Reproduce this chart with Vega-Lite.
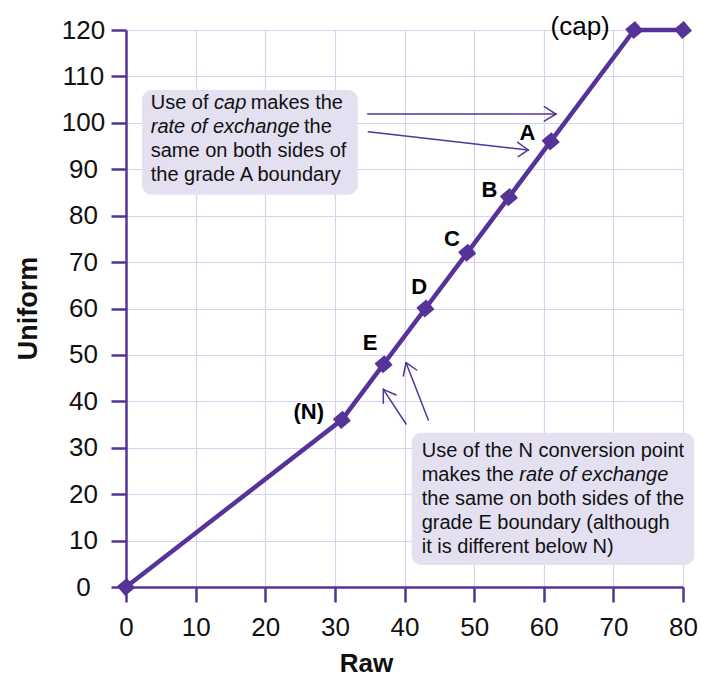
{
  "$schema": "https://vega.github.io/schema/vega-lite/v6.json",
  "width": 557,
  "height": 557,
  "autosize": "none",
  "padding": {"left": 126, "top": 30, "right": 18, "bottom": 90},
  "background": "white",
  "config": {
    "view": {"stroke": null},
    "font": "Liberation Sans",
    "axis": {
      "grid": true,
      "gridColor": "#d9d2ee",
      "gridWidth": 1.2,
      "domainColor": "#553399",
      "domainWidth": 2.5,
      "tickColor": "#553399",
      "tickWidth": 2.5,
      "tickSize": 15,
      "labelFont": "Liberation Sans",
      "labelFontSize": 26,
      "labelColor": "#111111",
      "titleFont": "Liberation Sans",
      "titleFontWeight": "bold",
      "titleColor": "#111111"
    },
    "axisX": {
      "tickCount": 8,
      "labelPadding": 12,
      "labelFlush": false,
      "titleFontSize": 26,
      "titleX": 240,
      "titleY": 84,
      "titleBaseline": "alphabetic",
      "titleAnchor": "middle"
    },
    "axisY": {
      "tickCount": 12,
      "labelAlign": "center",
      "labelPadding": 28,
      "labelFlush": false,
      "titleFontSize": 27,
      "titleAngle": -90,
      "titleX": -90,
      "titleY": 278,
      "titleBaseline": "alphabetic",
      "titleAlign": "center"
    }
  },
  "datasets": {
    "curve": [
      {"Raw": 0, "Uniform": 0},
      {"Raw": 31, "Uniform": 36},
      {"Raw": 37, "Uniform": 48},
      {"Raw": 43, "Uniform": 60},
      {"Raw": 49, "Uniform": 72},
      {"Raw": 55, "Uniform": 84},
      {"Raw": 61, "Uniform": 96},
      {"Raw": 73, "Uniform": 120},
      {"Raw": 80, "Uniform": 120}
    ],
    "boxes": [
      {"Raw": 2.3, "Raw2": 33.3, "Uniform": 107.1, "Uniform2": 84.5},
      {"Raw": 41.03, "Raw2": 81.62, "Uniform": 33.24, "Uniform2": 4.74}
    ],
    "arrows": [
      {"Raw": 34.71, "Uniform": 101.9, "Raw2": 61.76, "Uniform2": 101.9},
      {"Raw": 60.08, "Uniform": 103.47, "Raw2": 61.76, "Uniform2": 101.9},
      {"Raw": 60.08, "Uniform": 100.39, "Raw2": 61.76, "Uniform2": 101.9},
      {"Raw": 34.8, "Uniform": 98.09, "Raw2": 57.78, "Uniform2": 94.15},
      {"Raw": 56.26, "Uniform": 95.81, "Raw2": 57.78, "Uniform2": 94.15},
      {"Raw": 56.34, "Uniform": 92.71, "Raw2": 57.78, "Uniform2": 94.15},
      {"Raw": 40.22, "Uniform": 35.12, "Raw2": 36.96, "Uniform2": 42.59},
      {"Raw": 36.96, "Uniform": 39.58, "Raw2": 36.96, "Uniform2": 42.59},
      {"Raw": 38.78, "Uniform": 41.36, "Raw2": 36.96, "Uniform2": 42.59},
      {"Raw": 43.42, "Uniform": 35.98, "Raw2": 40.22, "Uniform2": 48.32},
      {"Raw": 39.83, "Uniform": 45.46, "Raw2": 40.22, "Uniform2": 48.32},
      {"Raw": 41.75, "Uniform": 46.75, "Raw2": 40.22, "Uniform2": 48.32}
    ],
    "gradeLabels": [
      {"Raw": 26.24, "Uniform": 36.3, "t": "(N)"},
      {"Raw": 35.07, "Uniform": 51.06, "t": "E"},
      {"Raw": 42.1, "Uniform": 63.12, "t": "D"},
      {"Raw": 46.8, "Uniform": 73.46, "t": "C"},
      {"Raw": 52.2, "Uniform": 84.09, "t": "B"},
      {"Raw": 57.67, "Uniform": 96.3, "t": "A"}
    ],
    "capLabel": [
      {"Raw": 65.23, "Uniform": 118.92, "t": "(cap)"}
    ],
    "noteNormal": [
      {"Raw": 3.55, "Uniform": 102.91, "t": "Use of"},
      {"Raw": 17.91, "Uniform": 102.91, "t": "makes the"},
      {"Raw": 25.57, "Uniform": 97.81, "t": "the"},
      {"Raw": 3.55, "Uniform": 92.57, "t": "same on both sides of"},
      {"Raw": 3.55, "Uniform": 87.47, "t": "the grade A boundary"},
      {"Raw": 42.47, "Uniform": 27.94, "t": "Use of the N conversion point"},
      {"Raw": 42.47, "Uniform": 22.77, "t": "makes the"},
      {"Raw": 42.47, "Uniform": 17.6, "t": "the same on both sides of the"},
      {"Raw": 42.47, "Uniform": 12.43, "t": "grade E boundary (although"},
      {"Raw": 42.47, "Uniform": 7.26, "t": "it is different below N)"}
    ],
    "noteItalic": [
      {"Raw": 12.64, "Uniform": 102.91, "t": "cap"},
      {"Raw": 3.55, "Uniform": 97.81, "t": "rate of exchange"},
      {"Raw": 56.49, "Uniform": 22.77, "t": "rate of exchange"}
    ]
  },
  "encoding": {
    "x": {"field": "Raw", "type": "quantitative", "scale": {"domain": [0, 80], "nice": false}, "title": "Raw"},
    "y": {"field": "Uniform", "type": "quantitative", "scale": {"domain": [0, 120], "nice": false}, "title": "Uniform"}
  },
  "layer": [
    {
      "data": {"name": "boxes"},
      "mark": {"type": "rect", "fill": "#e4e0f1", "cornerRadius": 10},
      "encoding": {
        "x2": {"field": "Raw2"},
        "y2": {"field": "Uniform2"}
      }
    },
    {
      "data": {"name": "arrows"},
      "mark": {"type": "rule", "color": "#553399", "strokeWidth": 1.5, "strokeCap": "round"},
      "encoding": {
        "x2": {"field": "Raw2"},
        "y2": {"field": "Uniform2"}
      }
    },
    {
      "data": {"name": "curve"},
      "mark": {"type": "line", "color": "#553399", "strokeWidth": 4.5, "strokeJoin": "miter"},
      "encoding": {}
    },
    {
      "data": {"name": "curve"},
      "mark": {"type": "point", "shape": "square", "angle": 50, "filled": true, "color": "#553399", "size": 165, "opacity": 1},
      "encoding": {}
    },
    {
      "data": {"name": "gradeLabels"},
      "mark": {"type": "text", "font": "Liberation Sans", "fontSize": 22, "fontWeight": "bold", "align": "center", "baseline": "alphabetic", "color": "#000000"},
      "encoding": {"text": {"field": "t"}}
    },
    {
      "data": {"name": "capLabel"},
      "mark": {"type": "text", "font": "Liberation Sans", "fontSize": 26, "align": "center", "baseline": "alphabetic", "color": "#000000"},
      "encoding": {"text": {"field": "t"}}
    },
    {
      "data": {"name": "noteNormal"},
      "mark": {"type": "text", "font": "Liberation Sans", "fontSize": 20, "align": "left", "baseline": "alphabetic", "color": "#111111"},
      "encoding": {"text": {"field": "t"}}
    },
    {
      "data": {"name": "noteItalic"},
      "mark": {"type": "text", "font": "Liberation Sans", "fontSize": 20, "fontStyle": "italic", "align": "left", "baseline": "alphabetic", "color": "#111111"},
      "encoding": {"text": {"field": "t"}}
    }
  ]
}
